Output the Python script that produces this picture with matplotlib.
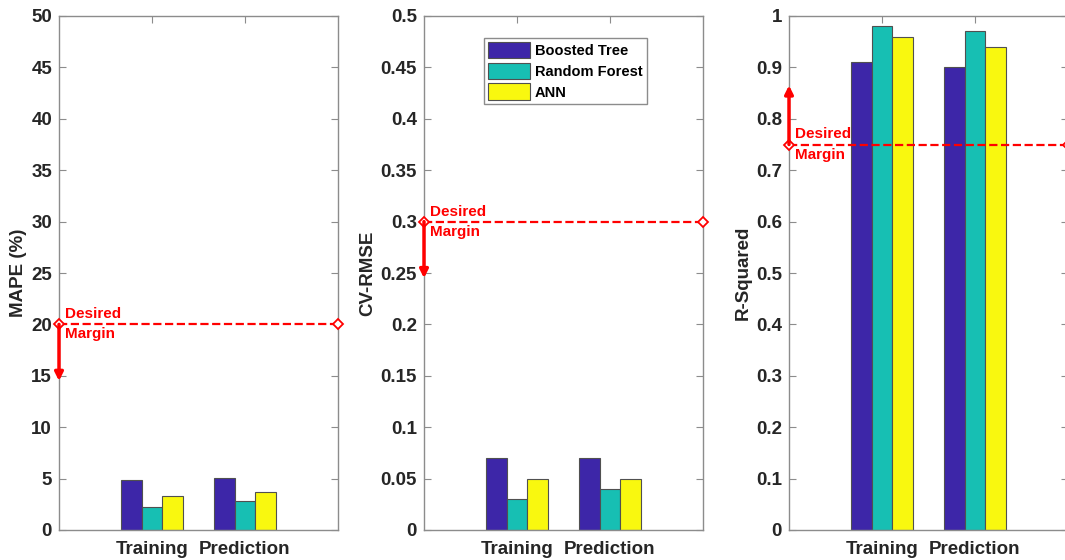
import matplotlib.pyplot as plt
import numpy as np

plt.rcParams['font.family'] = ['Arial', 'Liberation Sans', 'DejaVu Sans']

groups = ["Training", "Prediction"]
models = ["Boosted Tree", "Random Forest", "ANN"]
colors = ["#3d26a8", "#17bfb3", "#f9f80f"]

mape = [[4.9, 5.1], [2.2, 2.8], [3.3, 3.7]]
cvrmse = [[0.07, 0.07], [0.03, 0.04], [0.05, 0.05]]
rsq = [[0.91, 0.90], [0.98, 0.97], [0.96, 0.94]]

margins = [20, 0.3, 0.75]
arrow_ends = [14.5, 0.245, 0.865]
ylabels = ["MAPE (%)", "CV-RMSE", "R-Squared"]
ylims = [(0, 50), (0, 0.5), (0, 1)]
yticks = [np.arange(0, 51, 5), np.arange(0, 0.51, 0.05), np.arange(0, 1.01, 0.1)]
ytick_labels = [
    [str(int(v)) for v in yticks[0]],
    ["0", "0.05", "0.1", "0.15", "0.2", "0.25", "0.3", "0.35", "0.4", "0.45", "0.5"],
    ["0", "0.1", "0.2", "0.3", "0.4", "0.5", "0.6", "0.7", "0.8", "0.9", "1"],
]
data = [mape, cvrmse, rsq]

spine_c = "#8c8c8c"
text_c = "#262626"


def main():
    fig = plt.figure(figsize=(10.65, 5.6), dpi=100)
    lefts = [59 / 1065, 424 / 1065, 789 / 1065]
    w = 279 / 1065
    for i in range(3):
        ax = fig.add_axes([lefts[i], 30 / 560, w, 514 / 560])
        x = np.arange(1, len(groups) + 1)
        bw = 0.667 / 3
        for k in range(3):
            ax.bar(x + (k - 1) * bw, data[i][k], width=bw, color=colors[k],
                   edgecolor="#505050", linewidth=0.8, label=models[k], zorder=2)
        ax.set_xlim(0, 3)
        ax.set_ylim(*ylims[i])
        ax.set_xticks(x)
        ax.set_xticklabels(groups)
        ax.set_yticks(yticks[i])
        ax.set_yticklabels(ytick_labels[i])
        ax.set_ylabel(ylabels[i], fontsize=13.5, fontweight="bold", color=text_c, labelpad=3)
        ax.tick_params(direction="in", top=True, right=True, length=5,
                       color=spine_c, labelcolor=text_c, labelsize=13.5)
        ax.tick_params(axis="x", pad=8)
        ax.tick_params(axis="y", pad=5)
        for lab in ax.get_xticklabels() + ax.get_yticklabels():
            lab.set_fontweight("bold")
        for s in ax.spines.values():
            s.set_color(spine_c)
            s.set_linewidth(1.0)

        m = margins[i]
        ax.plot([0, 3], [m, m], color="red", linestyle="--", linewidth=1.6,
                marker="D", markersize=5, markerfacecolor="white",
                markeredgecolor="red", markeredgewidth=1.3, clip_on=False, zorder=4)
        ax.annotate("", xy=(0.0, arrow_ends[i]), xytext=(0.0, m),
                    arrowprops=dict(arrowstyle="-|>", color="red", lw=2.5,
                                    mutation_scale=12, shrinkA=0, shrinkB=0),
                    annotation_clip=False, zorder=5)
        yr = ylims[i][1]
        ax.text(0.06, m + 0.006 * yr, "Desired", color="red", fontsize=11,
                fontweight="bold", va="bottom", ha="left", zorder=5)
        ax.text(0.06, m - 0.006 * yr, "Margin", color="red", fontsize=11,
                fontweight="bold", va="top", ha="left", zorder=5)

        if i == 1:
            leg = ax.legend(loc="upper left", bbox_to_anchor=(0.214, 0.958),
                            prop={"weight": "bold", "size": 10.5},
                            handlelength=2.9, handleheight=1.35, handletextpad=0.3,
                            labelspacing=0.3, borderpad=0.3, borderaxespad=0,
                            fancybox=False, framealpha=1, edgecolor=spine_c)
            leg.get_frame().set_linewidth(1.0)

    fig.savefig("out.png", dpi=100)


if __name__ == "__main__":
    main()
